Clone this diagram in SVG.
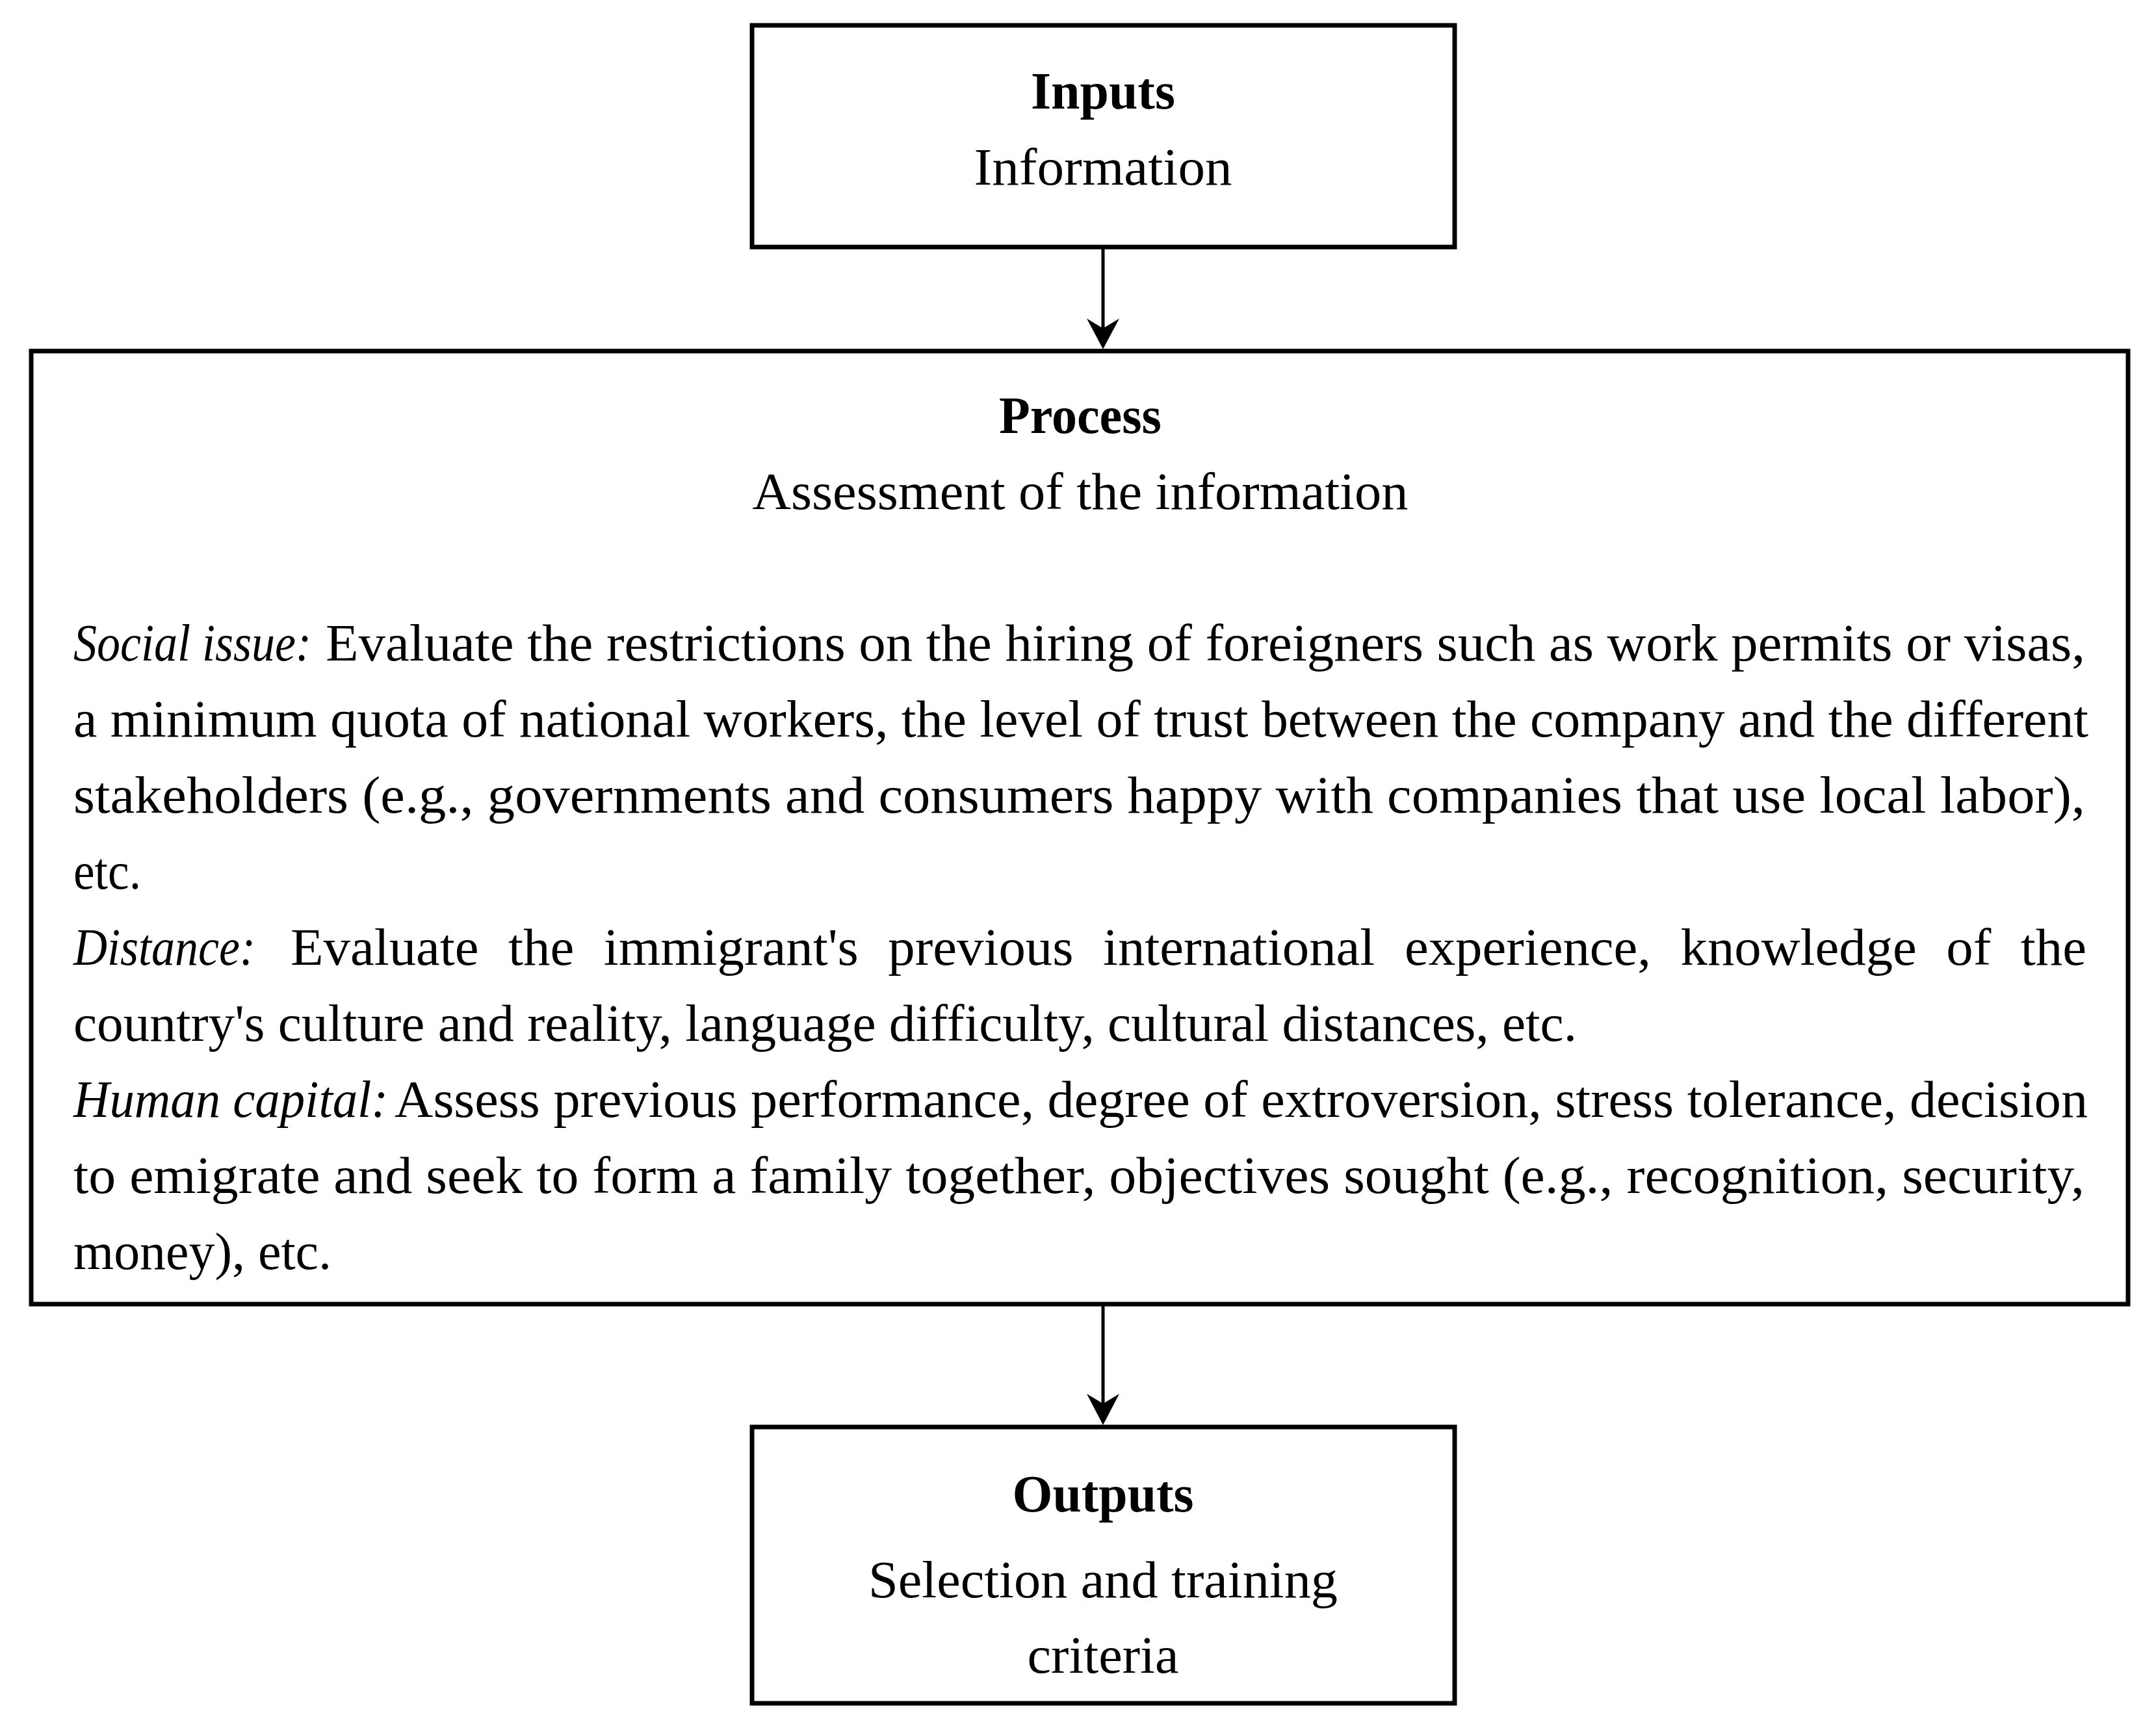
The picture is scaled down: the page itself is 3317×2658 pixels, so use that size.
<svg xmlns="http://www.w3.org/2000/svg" width="3317" height="2658" viewBox="0 0 3317 2658">
  <style>
    .box { fill: #ffffff; stroke: #000000; stroke-width: 7; }
    .t { font-family: "Liberation Serif", "Times New Roman", serif; font-size: 80px; fill: #000000; }
    .b { font-weight: bold; }
    .i { font-style: italic; }
    .c { text-anchor: middle; }
    .edge { stroke: #000000; stroke-width: 5; fill: none; }
    .head { fill: #000000; stroke: none; }
  </style>
  <rect x="0" y="0" width="3317" height="2658" fill="#ffffff"/>

  <g id="node-inputs">
    <rect class="box" x="1157" y="39" width="1081" height="341"/>
    <text class="t b c" x="1697" y="167" textLength="222" lengthAdjust="spacingAndGlyphs">Inputs</text>
    <text class="t c" x="1697" y="284" textLength="397" lengthAdjust="spacingAndGlyphs">Information</text>
  </g>

  <g id="node-process">
    <rect class="box" x="48" y="540" width="3226" height="1466"/>
    <text class="t b c" x="1662" y="666" textLength="250" lengthAdjust="spacingAndGlyphs">Process</text>
    <text class="t c" x="1662" y="783" textLength="1009" lengthAdjust="spacingAndGlyphs">Assessment of the information</text>

    <text class="t i" x="113" y="1016" textLength="366" lengthAdjust="spacingAndGlyphs">Social issue:</text>
    <text class="t" x="501" y="1016" textLength="2707" lengthAdjust="spacingAndGlyphs">Evaluate the restrictions on the hiring of foreigners such as work permits or visas,</text>
    <text class="t" x="113" y="1133" textLength="3100" lengthAdjust="spacingAndGlyphs">a minimum quota of national workers, the level of trust between the company and the different</text>
    <text class="t" x="113" y="1250" textLength="3095" lengthAdjust="spacingAndGlyphs">stakeholders (e.g., governments and consumers happy with companies that use local labor),</text>
    <text class="t" x="113" y="1367" textLength="104" lengthAdjust="spacingAndGlyphs">etc.</text>

    <text class="t i" x="113" y="1484" textLength="280" lengthAdjust="spacingAndGlyphs">Distance:</text>
    <text class="t" x="447" y="1484" word-spacing="24" textLength="2763" lengthAdjust="spacingAndGlyphs">Evaluate the immigrant's previous international experience, knowledge of the</text>
    <text class="t" x="113" y="1601" textLength="2313" lengthAdjust="spacingAndGlyphs">country's culture and reality, language difficulty, cultural distances, etc.</text>

    <text class="t i" x="113" y="1718" textLength="484" lengthAdjust="spacingAndGlyphs">Human capital:</text>
    <text class="t" x="607" y="1718" textLength="2605" lengthAdjust="spacingAndGlyphs">Assess previous performance, degree of extroversion, stress tolerance, decision</text>
    <text class="t" x="113" y="1835" textLength="3094" lengthAdjust="spacingAndGlyphs">to emigrate and seek to form a family together, objectives sought (e.g., recognition, security,</text>
    <text class="t" x="113" y="1952" textLength="397" lengthAdjust="spacingAndGlyphs">money), etc.</text>
  </g>

  <g id="node-outputs">
    <rect class="box" x="1157" y="2195" width="1081" height="425"/>
    <text class="t b c" x="1697" y="2325" textLength="279" lengthAdjust="spacingAndGlyphs">Outputs</text>
    <text class="t c" x="1697" y="2457" textLength="722" lengthAdjust="spacingAndGlyphs">Selection and training</text>
    <text class="t c" x="1697" y="2573" textLength="233" lengthAdjust="spacingAndGlyphs">criteria</text>
  </g>

  <g id="connectors">
    <line class="edge" x1="1697" y1="383" x2="1697" y2="515"/>
    <path class="head" d="M1697,537 L1672,490 L1697,505 L1722,490 Z"/>
    <line class="edge" x1="1697" y1="2009" x2="1697" y2="2170"/>
    <path class="head" d="M1697,2192 L1672,2144 L1697,2159 L1722,2144 Z"/>
  </g>
</svg>
